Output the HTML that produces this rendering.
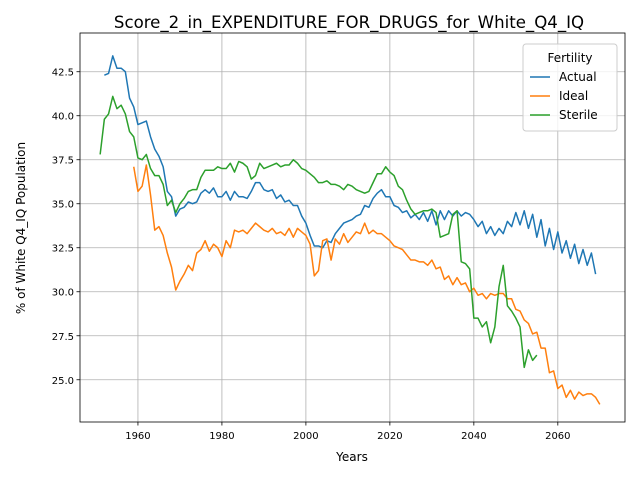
<!DOCTYPE html>
<html><head><meta charset="utf-8"><style>
body{margin:0;background:#fff;font-family:"Liberation Sans","DejaVu Sans",sans-serif}
svg text{font-family:"DejaVu Sans","Liberation Sans",sans-serif}
</style></head><body>
<svg id="chart" width="640" height="480" viewBox="0 0 640 480">
<rect width="640" height="480" fill="#fff"/>
<text x="349" y="28" font-size="16.6" text-anchor="middle">Score_2_in_EXPENDITURE_FOR_DRUGS_for_White_Q4_IQ</text>
<g id="grid"></g><g id="axes"></g><g id="series"></g>
<text x="352" y="461" font-size="12" text-anchor="middle">Years</text>
<text transform="translate(25,228) rotate(-90)" font-size="12" text-anchor="middle">% of White Q4_IQ Population</text>
<g>
<rect x="523" y="44" width="94" height="87" rx="3" fill="#fff" fill-opacity="0.8" stroke="#ccc"/>
<text x="570" y="62" font-size="12" text-anchor="middle">Fertility</text>
<g><line x1="530" y1="77" x2="550" y2="77" stroke="#1f77b4" stroke-width="1.5"/><text x="559" y="81" font-size="12">Actual</text></g>
<g><line x1="530" y1="96" x2="550" y2="96" stroke="#ff7f0e" stroke-width="1.5"/><text x="559" y="100" font-size="12">Ideal</text></g>
<g><line x1="530" y1="115" x2="550" y2="115" stroke="#2ca02c" stroke-width="1.5"/><text x="559" y="119" font-size="12">Sterile</text></g>
</g>
</svg>
<script>
const actualStart = 1952;
const actualValues = [42.3,42.4,43.4,42.7,42.7,42.5,41.0,40.5,39.5,39.6,39.7,38.8,38.1,37.7,37.1,35.7,35.4,34.3,34.7,34.8,35.1,35.0,35.1,35.6,35.8,35.6,35.9,35.4,35.4,35.7,35.2,35.7,35.4,35.4,35.3,35.7,36.2,36.2,35.8,35.7,35.8,35.3,35.5,35.1,35.2,34.9,34.9,34.3,33.9,33.2,32.6,32.6,32.5,32.9,32.8,33.3,33.6,33.9,34.0,34.1,34.3,34.4,34.9,34.8,35.3,35.6,35.8,35.4,35.4,34.9,34.8,34.5,34.6,34.2,34.4,34.1,34.5,34.0,34.6,33.8,34.6,34.1,34.6,34.3,34.6,34.3,34.5,34.4,34.1,33.7,34.0,33.3,33.7,33.2,33.6,33.3,34.0,33.7,34.5,33.8,34.6,33.6,34.4,33.1,34.1,32.6,33.6,32.4,33.4,32.2,32.9,31.9,32.7,31.6,32.4,31.5,32.2,31.0];
const idealStart = 1959;
const idealValues = [37.1,35.7,36.0,37.2,35.5,33.5,33.7,33.2,32.2,31.4,30.1,30.6,31.0,31.5,31.2,32.2,32.4,32.9,32.3,32.7,32.5,32.0,32.9,32.5,33.5,33.4,33.5,33.3,33.6,33.9,33.7,33.5,33.4,33.6,33.3,33.4,33.2,33.6,33.1,33.6,33.4,33.2,32.7,30.9,31.2,32.9,33.0,31.8,33.0,32.7,33.3,32.8,33.1,33.4,33.3,33.9,33.3,33.5,33.3,33.3,33.1,32.9,32.6,32.5,32.4,32.1,31.8,31.8,31.7,31.7,31.5,31.8,31.3,31.4,30.7,30.9,30.4,30.8,30.4,30.5,30.0,30.2,29.8,29.9,29.6,29.9,29.8,29.9,29.9,29.6,29.6,29.0,28.9,28.4,28.2,27.6,27.7,26.8,26.8,25.4,25.5,24.5,24.7,24.0,24.4,23.9,24.3,24.1,24.2,24.2,24.0,23.6];
const sterileStart = 1951;
const sterileValues = [37.8,39.8,40.1,41.1,40.4,40.6,40.1,39.1,38.8,37.6,37.5,37.8,37.0,36.6,36.6,36.1,34.9,35.2,34.5,35.0,35.3,35.7,35.8,35.8,36.5,36.9,36.9,36.9,37.1,37.0,37.0,37.3,36.8,37.4,37.3,37.1,36.4,36.6,37.3,37.0,37.1,37.2,37.3,37.1,37.2,37.2,37.5,37.3,37.0,36.9,36.7,36.5,36.2,36.2,36.3,36.1,36.1,36.0,35.8,36.1,36.0,35.8,35.7,35.6,35.7,36.2,36.7,36.7,37.1,36.8,36.6,36.0,35.8,35.2,34.7,34.4,34.5,34.6,34.6,34.7,34.5,33.1,33.2,33.3,34.4,34.6,31.7,31.6,31.3,28.5,28.5,28.0,28.3,27.1,28.0,30.3,31.5,29.2,28.9,28.5,28.0,25.7,26.7,26.1,26.4];
const xTicks = [1960,1980,2000,2020,2040,2060];
const yTicks = [25.0,27.5,30.0,32.5,35.0,37.5,40.0,42.5];

const L=80,R=625,T=33,B=422;
const xMin=1946.2,xMax=2076.0,yMin=22.6,yMax=44.7;
const sx=v=>L+(v-xMin)/(xMax-xMin)*(R-L);
const sy=v=>B-(v-yMin)/(yMax-yMin)*(B-T);
const NS='http://www.w3.org/2000/svg';
function mk(tag,attrs,parent){const e=document.createElementNS(NS,tag);for(const k in attrs)e.setAttribute(k,attrs[k]);parent.appendChild(e);return e;}
const grid=document.getElementById('grid'),axes=document.getElementById('axes'),series=document.getElementById('series');
xTicks.forEach(t=>{
  const x=sx(t);
  const g=mk('line',{x1:x,x2:x,y1:T,y2:B,stroke:'#b0b0b0','stroke-width':0.8},grid);
  
  
  mk('line',{x1:x,x2:x,y1:B,y2:B+3.5,stroke:'#000','stroke-width':0.8},axes);
  const tx=mk('text',{x:x,y:B+17,'font-size':10,'text-anchor':'middle'},axes);
  tx.textContent=t;
  
  
});
yTicks.forEach(t=>{
  const y=sy(t);
  const g=mk('line',{x1:L,x2:R,y1:y,y2:y,stroke:'#b0b0b0','stroke-width':0.8},grid);
  
  
  mk('line',{x1:L-3.5,x2:L,y1:y,y2:y,stroke:'#000','stroke-width':0.8},axes);
  const tx=mk('text',{x:L-6,y:y+4,'font-size':10,'text-anchor':'end'},axes);
  tx.textContent=t.toFixed(1);
  
  
});
const frame=mk('rect',{x:L,y:T,width:R-L,height:B-T,fill:'none',stroke:'#000','stroke-width':0.8},axes);


function draw(start,vals,color,name){
  const d=vals.map((v,i)=>(i?'L':'M')+sx(start+i).toFixed(2)+','+sy(v).toFixed(2)).join('');
  const p=mk('path',{d:d,fill:'none',stroke:color,'stroke-width':1.5,'stroke-linejoin':'round'},series);
  
  
}
draw(actualStart,actualValues,'#1f77b4','actual-line');
draw(idealStart,idealValues,'#ff7f0e','ideal-line');
draw(sterileStart,sterileValues,'#2ca02c','sterile-line');
</script>
</body></html>
